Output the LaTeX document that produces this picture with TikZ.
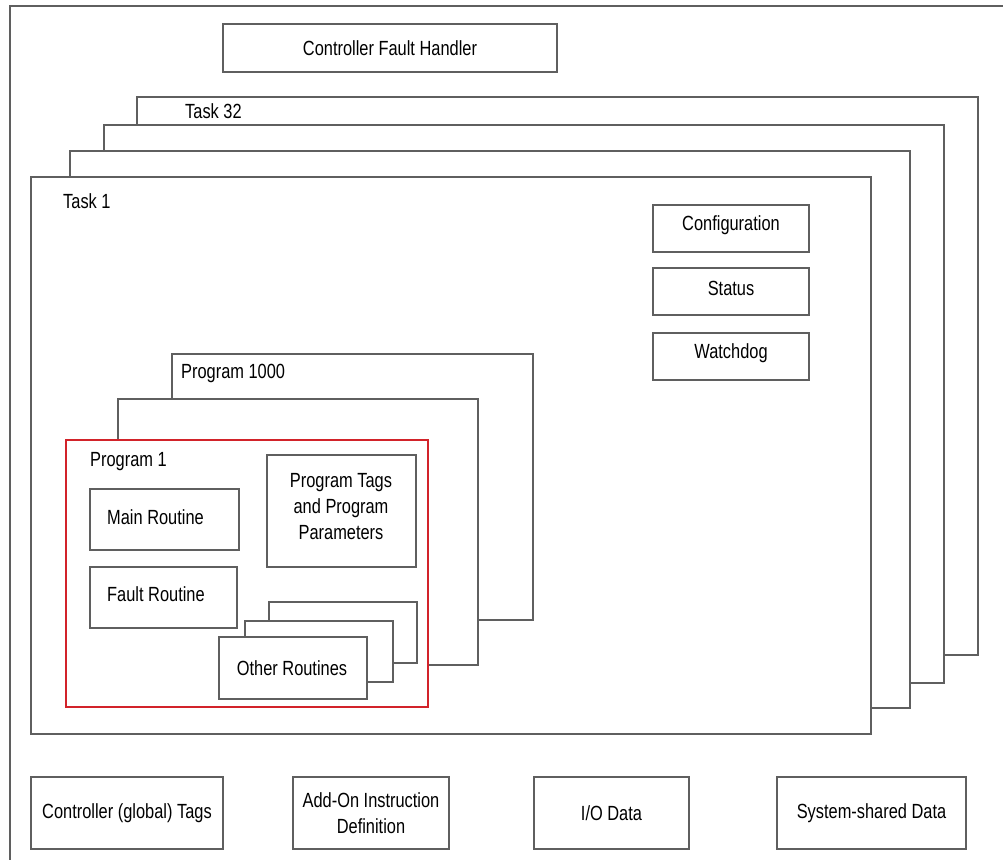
\documentclass[tikz,border=0pt]{standalone}
\usepackage{fontspec}
\setmainfont{Liberation Sans}[FakeStretch=0.8]
\definecolor{linegray}{RGB}{95,95,95}
\definecolor{redline}{RGB}{210,35,42}
\tikzset{
  frame/.style={draw=linegray, line width=1.3pt, fill=white, inner sep=0pt, outer sep=0pt, anchor=north west},
  redframe/.style={frame, draw=redline, line width=2.5pt},
  lbl/.style={font=\fontsize{20.5}{25}\selectfont, inner sep=0pt, anchor=west},
  txt/.style={font=\fontsize{20.5}{26}\selectfont, align=center, inner sep=0pt},
}
\begin{document}
\begin{tikzpicture}[x=1pt,y=-1pt]
\useasboundingbox (0,0) rectangle (1003,859);
% outer frame (cropped)
\draw[linegray, line width=1.3pt] (10,862) -- (10,6) -- (1006,6);
% controller fault handler
\node[frame, minimum width=334pt, minimum height=48pt] (cfh) at (223,24) {};
\node[txt] (cfht) at (cfh.center) {Controller Fault Handler};
% tasks
\node[frame, minimum width=841pt, minimum height=558pt] (task32) at (137,97) {};
\node[frame, minimum width=840pt, minimum height=558pt] (task3) at (104,125) {};
\node[frame, minimum width=840pt, minimum height=557pt] (task2) at (70,151) {};
\node[frame, minimum width=840pt, minimum height=557pt] (task1) at (31,177) {};
\node[lbl] (t32l) at (185,111) {Task 32};
\node[lbl] (t1l) at (63,201) {Task 1};
% config / status / watchdog
\node[frame, minimum width=156pt, minimum height=47pt] (conf) at (653,205) {};
\node[txt] (conft) at ([yshift=3pt]conf.center) {Configuration};
\node[frame, minimum width=156pt, minimum height=47pt] (stat) at (653,268) {};
\node[txt] (statt) at ([yshift=3pt]stat.center) {Status};
\node[frame, minimum width=156pt, minimum height=47pt] (wdog) at (653,333) {};
\node[txt] (wdogt) at ([yshift=3pt]wdog.center) {Watchdog};
% programs
\node[frame, minimum width=361pt, minimum height=266pt] (p1000) at (172,354) {};
\node[frame, minimum width=360pt, minimum height=266pt] (p2) at (118,399) {};
\node[redframe, minimum width=362pt, minimum height=267pt] (p1) at (66,440) {};
\node[lbl] (p1000l) at (181,373) {Program 1000};
\node[lbl] (p1l) at (90,462) {Program 1};
% routines
\node[frame, minimum width=149pt, minimum height=61pt] (main) at (90,489) {};
\node[lbl] (maint) at (107,517) {Main Routine};
\node[frame, minimum width=147pt, minimum height=61pt] (fault) at (90,567) {};
\node[lbl] (faultt) at (107,594) {Fault Routine};
\node[frame, minimum width=149pt, minimum height=112pt] (ptags) at (267,455) {};
\node[txt] (ptagst) at (341,507) {Program Tags\\and Program\\Parameters};
\node[frame, minimum width=148pt, minimum height=61pt] (or3) at (269,602) {};
\node[frame, minimum width=148pt, minimum height=61pt] (or2) at (245,621) {};
\node[frame, minimum width=148pt, minimum height=62pt] (or1) at (219,637) {};
\node[txt] (or1t) at (292,668) {Other Routines};
% bottom boxes
\node[frame, minimum width=192pt, minimum height=72pt] (cgt) at (31,777) {};
\node[txt] (cgtt) at (cgt.center) {Controller (global) Tags};
\node[frame, minimum width=156pt, minimum height=72pt] (aoi) at (293,777) {};
\node[txt] (aoit) at (aoi.center) {Add-On Instruction\\Definition};
\node[frame, minimum width=155pt, minimum height=72pt] (io) at (534,777) {};
\node[txt] (iot) at (io.center) {I/O Data};
\node[frame, minimum width=189pt, minimum height=72pt] (ssd) at (777,777) {};
\node[txt] (ssdt) at (ssd.center) {System-shared Data};
\end{tikzpicture}
\end{document}
